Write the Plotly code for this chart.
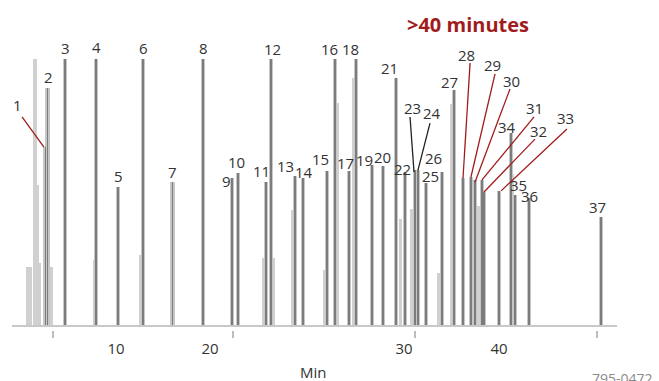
import plotly.graph_objects as go

# ---------------- data ----------------
peak_labels = [str(i) for i in range(1, 38)]
peak_rt = [4.49, 4.65, 6.02, 8.44, 10.16, 12.11, 14.41, 16.80, 19.06, 19.53,
           21.72, 22.11, 23.98, 24.61, 26.48, 27.11, 28.20, 28.75, 30.00, 30.86,
           31.88, 32.58, 33.36, 33.59, 34.22, 35.47, 36.41, 37.11, 37.73, 38.05,
           38.59, 38.75, 39.92, 40.86, 41.17, 42.27, 47.89]
peak_height = [67.0, 89.1, 100, 100, 52.1, 100, 53.9, 100, 55.4, 57.3,
               53.9, 100, 56.2, 55.4, 58.1, 100, 58.1, 100, 60.3, 59.9,
               92.9, 57.7, 58.4, 58.4, 53.6, 57.7, 88.4, 55.4, 55.8, 54.7,
               54.7, 50.2, 50.6, 72.3, 49.1, 47.9, 40.8]

# unlabeled minor / shoulder peaks
minor_rt = [3.13, 3.28, 3.67, 3.83, 3.98, 4.92, 8.36, 11.90, 21.50, 22.27,
            23.83, 26.27, 27.27, 28.59, 30.80, 32.20, 33.10, 35.20, 36.20,
            38.30, 41.00]
minor_height = [22.0, 22.0, 100, 52.8, 23.6, 22.0, 24.7, 26.6, 25.5, 25.5,
                43.4, 21.0, 83.5, 93.0, 58.0, 40.0, 44.0, 20.0, 83.0,
                45.0, 57.0]

run_start, run_end = 1.875, 49.14

tick_mark_vals = [5.08, 19.14, 33.36, 47.58]
tick_label_vals = [10.0, 17.34, 32.5, 39.92]
tick_label_text = ["10", "20", "30", "40"]

# label placement (layout only)
label_pos = [(2.34, 82.8), (4.69, 93.3), (6.02, 104.1), (8.44, 104.5), (10.16, 56.2),
             (12.11, 104.1), (14.45, 57.7), (16.80, 104.1), (18.67, 54.3), (19.45, 61.4),
             (21.33, 58.1), (22.19, 103.7), (23.28, 59.9), (24.69, 57.7), (25.94, 62.5),
             (26.64, 103.7), (27.89, 61.0), (28.28, 103.7), (29.38, 62.2), (30.78, 63.3),
             (31.33, 96.6), (32.42, 58.8), (33.13, 81.6), (34.69, 79.8), (34.53, 56.2),
             (34.84, 62.9), (36.09, 91.4), (37.42, 101.5), (39.45, 97.8), (40.86, 91.8),
             (42.66, 81.6), (42.97, 73.0), (45.08, 77.9), (40.55, 74.5), (41.48, 52.8),
             (42.34, 48.7), (47.58, 44.6)]

RED = "#a01c1c"
leaders = [  # (x0, y0, x1, y1, color)
    (2.66, 78.3, 4.37, 67.0, RED),
    (32.97, 78.3, 33.28, 57.7, "#222222"),
    (34.53, 76.0, 33.59, 58.4, "#222222"),
    (37.66, 98.5, 37.11, 55.4, RED),
    (39.61, 94.4, 37.73, 55.8, RED),
    (40.78, 88.8, 38.05, 53.9, RED),
    (42.66, 78.3, 38.59, 54.7, RED),
    (42.73, 70.0, 38.75, 50.2, RED),
    (45.23, 73.8, 40.08, 50.6, RED),
]

FONT = "Open Sans"
fig = go.Figure()

# baseline
fig.add_trace(go.Scatter(x=[run_start, run_end], y=[0, 0], mode="lines",
                         line=dict(color="#c8c8c8", width=2), hoverinfo="skip",
                         showlegend=False))
# minor peaks
fig.add_trace(go.Bar(x=minor_rt, y=minor_height, width=0.26,
                     marker=dict(color="#d0d0d0", line=dict(width=0)),
                     showlegend=False))
# labeled peaks halo
fig.add_trace(go.Bar(x=peak_rt, y=peak_height, width=0.34,
                     marker=dict(color="#c6c6c6", line=dict(width=0)),
                     showlegend=False))
# labeled peaks core
fig.add_trace(go.Bar(x=peak_rt, y=peak_height, width=0.07,
                     marker=dict(color="#7c7c7c", line=dict(width=0)),
                     showlegend=False))
# tick label axis carrier
fig.add_trace(go.Scatter(x=[run_start], y=[0], xaxis="x2", mode="markers",
                         marker=dict(opacity=0), hoverinfo="skip", showlegend=False))

for lab, (lx, ly) in zip(peak_labels, label_pos):
    fig.add_annotation(x=lx, y=ly, text=lab, showarrow=False,
                       font=dict(family=FONT, size=15, color="#333333"))

for x0, y0, x1, y1, c in leaders:
    fig.add_shape(type="line", x0=x0, y0=y0, x1=x1, y1=y1,
                  line=dict(color=c, width=1.3))

fig.add_annotation(xref="paper", yref="paper", x=0.806, y=0.927, yanchor="middle",
                   text="<b>>40 minutes</b>",
                   showarrow=False, font=dict(family=FONT, size=20, color=RED))
fig.add_annotation(xref="paper", yref="paper", x=0.475, y=-0.127, yanchor="middle",
                   text="Min",
                   showarrow=False, font=dict(family=FONT, size=15, color="#333333"))
fig.add_annotation(xref="paper", yref="paper", x=0.895, y=-0.112, xanchor="left",
                   yanchor="top", text="795-0472", showarrow=False,
                   font=dict(family=FONT, size=14, color="#8a8a8a"))

xr = [0.9375, 52.42]
fig.update_layout(
    width=659, height=381,
    margin=dict(l=0, r=0, t=0, b=51),
    paper_bgcolor="white", plot_bgcolor="white",
    barmode="overlay", bargap=0,
    xaxis=dict(range=xr, showgrid=False, zeroline=False, showline=False,
               tickvals=tick_mark_vals, ticks="outside", ticklen=7, tickwidth=1.5,
               tickcolor="#bdbdbd", showticklabels=False),
    xaxis2=dict(range=xr, overlaying="x", anchor="y", side="bottom",
                showgrid=False, zeroline=False, showline=False,
                tickvals=tick_label_vals, ticktext=tick_label_text, ticks="",
                ticklabelstandoff=8,
                tickfont=dict(family=FONT, size=15, color="#333333")),
    yaxis=dict(range=[-1.5, 122.1], visible=False),
)

fig.write_html("out.html")
